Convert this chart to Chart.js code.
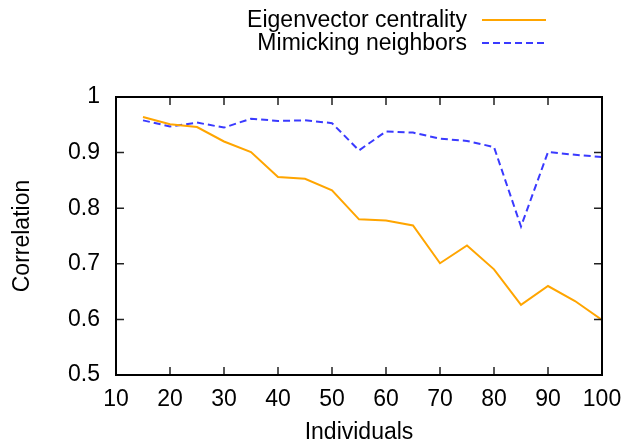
<!DOCTYPE html>
<html lang="en">
<head>
  <meta charset="UTF-8">
  <title>Correlation vs Individuals</title>
  <script src="https://cdn.jsdelivr.net/npm/chart.js"></script>
  <style>
    body {
      margin: 0;
      background: white;
    }
    #wrap {
      width: 626px;
      height: 447px;
    }
  </style>
</head>
<body>
  <div id="wrap">
    <canvas id="corrChart" width="626" height="447"></canvas>
  </div>

  <script type="text/javascript">
    const individuals = [15, 20, 25, 30, 35, 40, 45, 50, 55, 60, 65, 70, 75, 80, 85, 90, 95, 100];
    const eigenvector = [0.964, 0.951, 0.946, 0.920, 0.901, 0.856, 0.853, 0.832, 0.780, 0.778, 0.769, 0.701, 0.733, 0.690, 0.626, 0.660, 0.633, 0.599];
    const mimicking = [0.958, 0.947, 0.954, 0.945, 0.961, 0.957, 0.958, 0.953, 0.904, 0.938, 0.936, 0.925, 0.921, 0.910, 0.767, 0.901, 0.896, 0.892];
    const seriesNames = ['Eigenvector centrality', 'Mimicking neighbors'];
    const xTicks = [10, 20, 30, 40, 50, 60, 70, 80, 90, 100];
    const yTicks = [0.5, 0.6, 0.7, 0.8, 0.9, 1];

    const FONT = "'Liberation Sans', Arial, sans-serif";
    const FSIZE = 23;
    const ORANGE = '#ffa500';
    const BLUE = '#3a3aff';

    function toPoints(ys) {
      return individuals.map((x, i) => ({ x: x, y: ys[i] }));
    }

    // gnuplot style: box border, inward ticks mirrored on all four sides
    const frame = {
      id: 'frame',
      afterDatasetsDraw(chart) {
        const ctx = chart.ctx;
        const a = chart.chartArea;
        const xs = chart.scales.x;
        const ys = chart.scales.y;
        const len = 8;
        ctx.save();
        ctx.strokeStyle = '#222';
        ctx.lineWidth = 1.5;
        ctx.beginPath();
        xTicks.forEach(v => {
          const px = xs.getPixelForValue(v);
          ctx.moveTo(px, a.bottom); ctx.lineTo(px, a.bottom - len);
          ctx.moveTo(px, a.top); ctx.lineTo(px, a.top + len);
        });
        yTicks.forEach(v => {
          const py = ys.getPixelForValue(v);
          ctx.moveTo(a.left, py); ctx.lineTo(a.left + len, py);
          ctx.moveTo(a.right, py); ctx.lineTo(a.right - len, py);
        });
        ctx.stroke();
        ctx.strokeStyle = '#000';
        ctx.lineWidth = 2;
        ctx.strokeRect(a.left, a.top, a.right - a.left, a.bottom - a.top);
        ctx.restore();
      }
    };

    // legend: text right-aligned, line sample to the right of it
    const keyBox = {
      id: 'keyBox',
      afterDraw(chart) {
        const ctx = chart.ctx;
        ctx.save();
        ctx.font = FSIZE + 'px ' + FONT;
        ctx.fillStyle = '#000';
        ctx.textAlign = 'right';
        ctx.textBaseline = 'middle';
        chart.data.datasets.forEach((ds, i) => {
          const y = 20 + i * 23;
          ctx.fillText(seriesNames[i], 467, y + 1);
          ctx.strokeStyle = ds.borderColor;
          ctx.lineWidth = ds.borderWidth;
          ctx.setLineDash(ds.borderDash || []);
          ctx.beginPath();
          ctx.moveTo(482, y);
          ctx.lineTo(546, y);
          ctx.stroke();
        });
        ctx.restore();
      }
    };

    const ctx = document.getElementById('corrChart').getContext('2d');
    new Chart(ctx, {
      type: 'line',
      data: {
        datasets: [{
          label: seriesNames[0],
          data: toPoints(eigenvector),
          borderColor: ORANGE,
          borderWidth: 2,
          pointRadius: 0,
          tension: 0
        }, {
          label: seriesNames[1],
          data: toPoints(mimicking),
          borderColor: BLUE,
          borderWidth: 2,
          borderDash: [7, 4],
          pointRadius: 0,
          tension: 0
        }]
      },
      options: {
        responsive: false,
        animation: false,
        events: [],
        layout: { padding: { top: 97, right: 24, left: 0, bottom: 0 } },
        plugins: {
          legend: { display: false },
          tooltip: { enabled: false }
        },
        scales: {
          x: {
            type: 'linear',
            min: 10,
            max: 100,
            afterBuildTicks: s => { s.ticks = xTicks.map(v => ({ value: v })); },
            afterFit: s => { s.height = 72; s.paddingLeft = 0; s.paddingRight = 0; },
            grid: { display: false, drawTicks: false },
            border: { display: false },
            ticks: { color: '#000', padding: 11, font: { family: FONT, size: FSIZE } },
            title: {
              display: true,
              text: 'Individuals',
              color: '#000',
              padding: { top: 0, bottom: 1 },
              font: { family: FONT, size: FSIZE }
            }
          },
          y: {
            min: 0.5,
            max: 1,
            afterBuildTicks: s => { s.ticks = yTicks.map(v => ({ value: v })); },
            afterFit: s => { s.width = 116; s.paddingTop = 0; s.paddingBottom = 0; },
            grid: { display: false, drawTicks: false },
            border: { display: false },
            ticks: {
              color: '#000',
              padding: 16,
              font: { family: FONT, size: FSIZE },
              callback: v => String(Math.round(v * 10) / 10)
            },
            title: {
              display: true,
              text: 'Correlation',
              color: '#000',
              padding: { top: 9, bottom: 0 },
              font: { family: FONT, size: FSIZE }
            }
          }
        }
      },
      plugins: [frame, keyBox]
    });
  </script>
</body>
</html>
